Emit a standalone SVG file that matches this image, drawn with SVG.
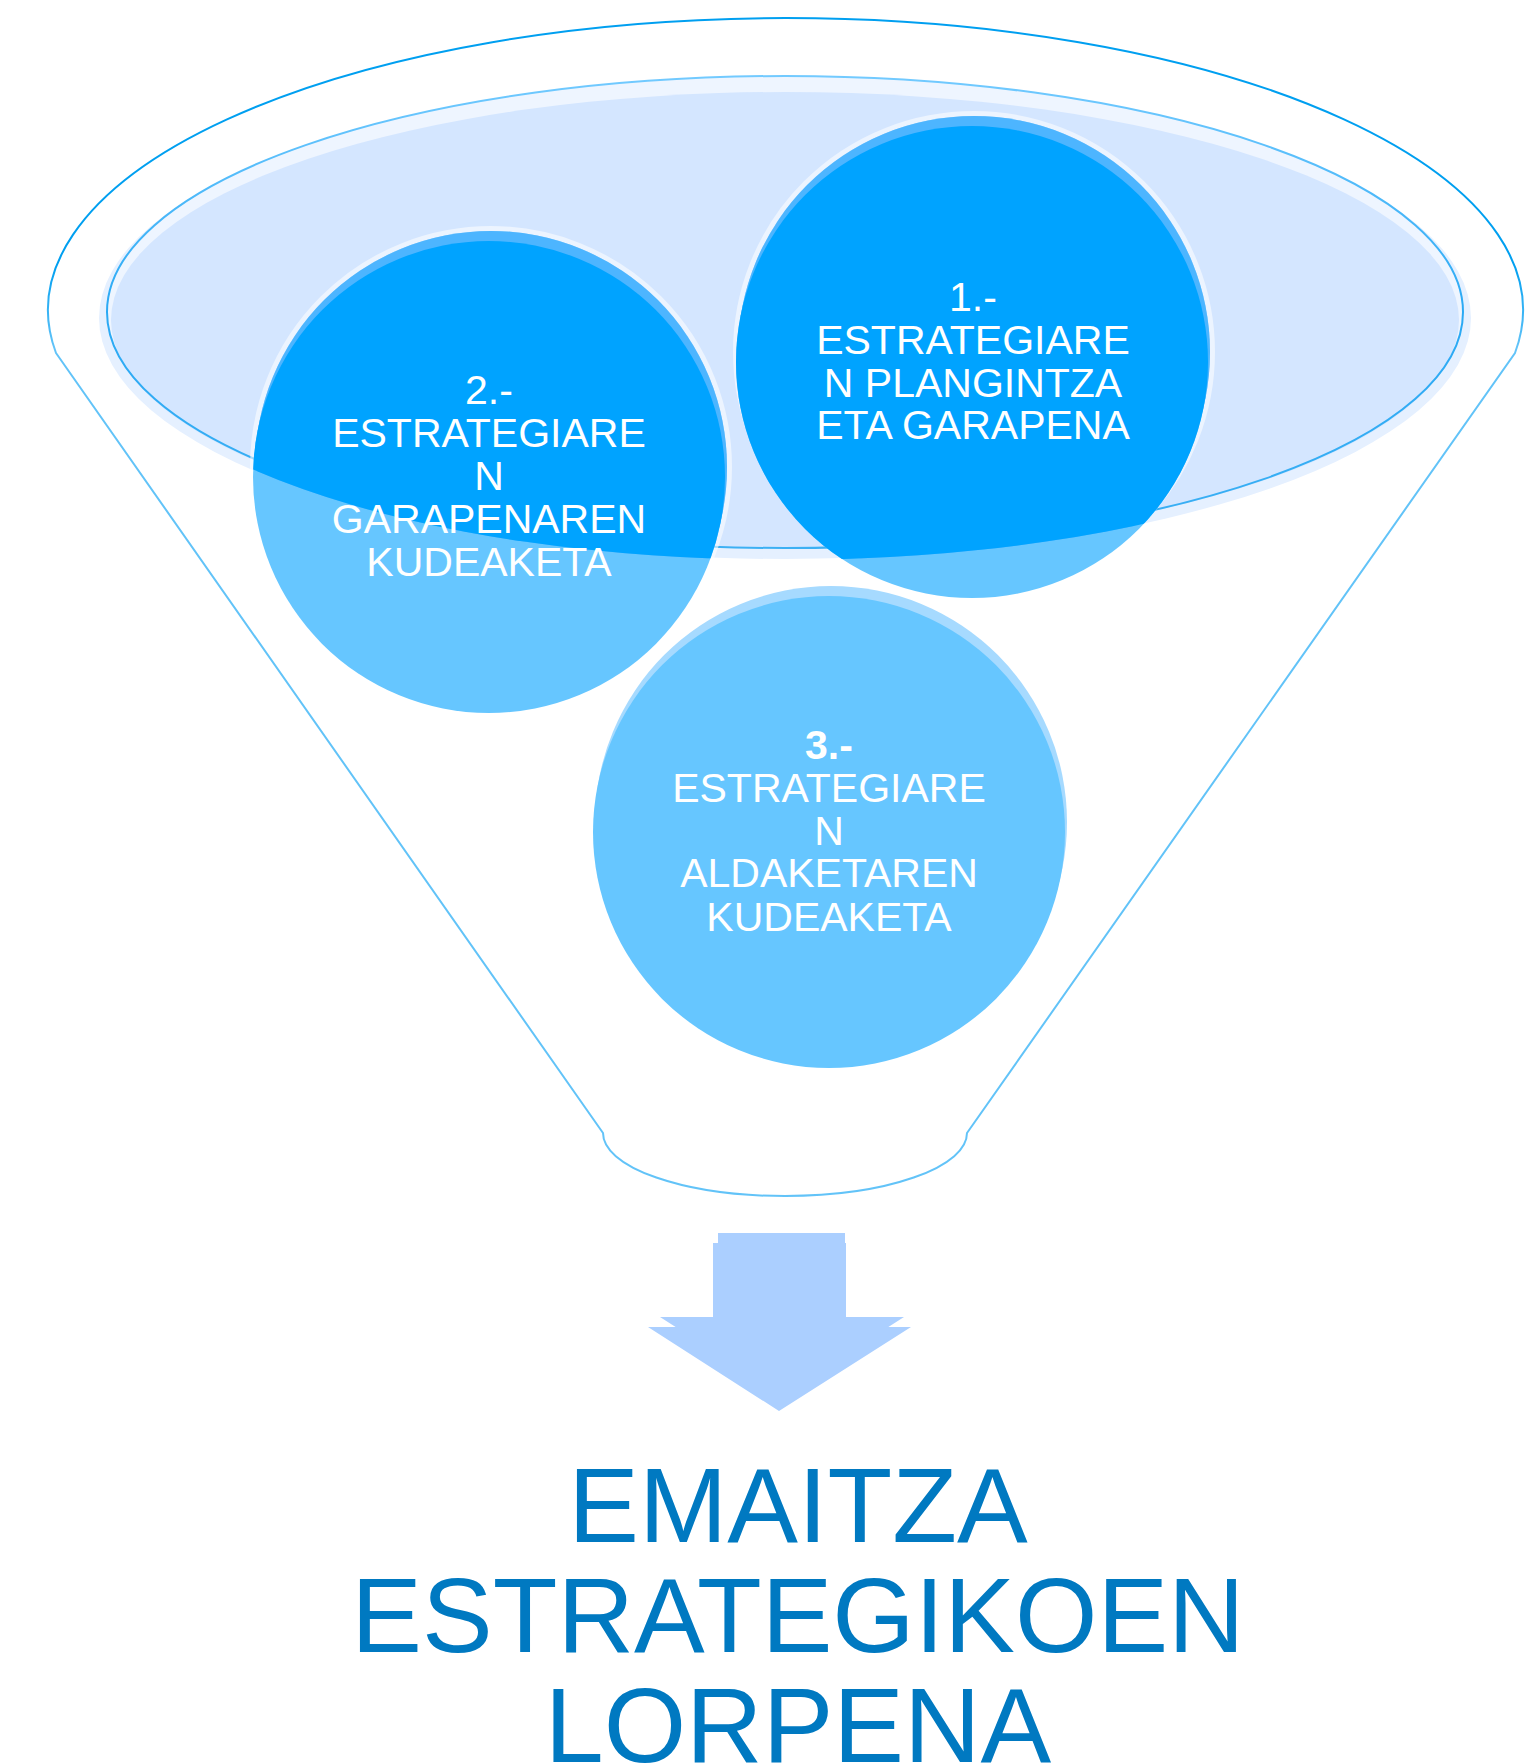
<svg xmlns="http://www.w3.org/2000/svg" width="1526" height="1764" viewBox="0 0 1526 1764">
  <style>
    .lbl { font-family: "Liberation Sans", Arial, sans-serif; font-size: 41px; fill: #ffffff; text-anchor: middle; }
    .res { font-family: "Liberation Sans", Arial, sans-serif; font-size: 106px; fill: #0079c1; text-anchor: middle; }
    .ring { fill: none; stroke: #ffffff; stroke-opacity: 0.55; stroke-width: 5; }
    .darkMain { fill: #00a3ff; }
    .darkBand { fill: #4db5ff; }
    .lightMain { fill: #66c6ff; }
    .lightBand { fill: #a6daff; }
    .arrow { fill: #abcfff; }
  </style>
  <defs>
    <clipPath id="inEll">
      <ellipse cx="785" cy="318" rx="682" ry="242"/>
    </clipPath>
    <linearGradient id="funnelStroke" gradientUnits="userSpaceOnUse" x1="0" y1="17" x2="0" y2="1196">
      <stop offset="0" stop-color="#009ff0"/>
      <stop offset="0.21" stop-color="#009ff0"/>
      <stop offset="0.28" stop-color="#62c3f8"/>
      <stop offset="1" stop-color="#62c3f8"/>
    </linearGradient>
    <linearGradient id="ellStroke" gradientUnits="userSpaceOnUse" x1="0" y1="76" x2="0" y2="548">
      <stop offset="0" stop-color="#72caff"/>
      <stop offset="0.5" stop-color="#2aa9f4"/>
      <stop offset="1" stop-color="#3cb0f4"/>
    </linearGradient>
  </defs>

  <g id="funnel">
    <path d="M56,353 L603,1133 A182,63 0 0 0 967,1133 L1515,353 A737.5,292 0 1 0 56,353 Z" fill="#ffffff" stroke="url(#funnelStroke)" stroke-width="2"/>
    <ellipse cx="785" cy="318" rx="686" ry="241" fill="#e5f0ff"/>
    <ellipse cx="785" cy="312" rx="678" ry="236" fill="#eef5ff"/>
    <ellipse cx="785" cy="320" rx="674" ry="228" fill="#d4e6ff"/>
    <ellipse cx="785" cy="312" rx="678" ry="236" fill="none" stroke="url(#ellStroke)" stroke-width="2"/>
  </g>

  <g id="node-1">
    <circle class="ring" cx="974" cy="352" r="238.5"/>
    <circle class="lightBand" cx="974" cy="352" r="236"/>
    <circle class="lightMain" cx="972" cy="362" r="236"/>
    <g clip-path="url(#inEll)">
      <circle class="darkBand" cx="974" cy="352" r="236"/>
      <circle class="darkMain" cx="972" cy="362" r="236"/>
    </g>
    <text class="lbl" x="973" y="311">1.-</text>
    <text class="lbl" x="973" y="354">ESTRATEGIARE</text>
    <text class="lbl" x="973" y="397">N PLANGINTZA</text>
    <text class="lbl" x="973" y="439">ETA GARAPENA</text>
  </g>

  <g id="node-2">
    <circle class="ring" cx="491" cy="467" r="238.5"/>
    <circle class="lightBand" cx="491" cy="467" r="236"/>
    <circle class="lightMain" cx="489" cy="477" r="236"/>
    <g clip-path="url(#inEll)">
      <circle class="darkBand" cx="491" cy="467" r="236"/>
      <circle class="darkMain" cx="489" cy="477" r="236"/>
    </g>
    <text class="lbl" x="489" y="404">2.-</text>
    <text class="lbl" x="489" y="447">ESTRATEGIARE</text>
    <text class="lbl" x="489" y="490">N</text>
    <text class="lbl" x="489" y="533">GARAPENAREN</text>
    <text class="lbl" x="489" y="576">KUDEAKETA</text>
  </g>

  <g id="node-3">
    <circle class="ring" cx="831" cy="822" r="238.5"/>
    <circle class="lightBand" cx="831" cy="822" r="236"/>
    <circle class="lightMain" cx="829" cy="832" r="236"/>
    <text class="lbl" x="829" y="759" font-weight="bold">3.-</text>
    <text class="lbl" x="829" y="802">ESTRATEGIARE</text>
    <text class="lbl" x="829" y="845">N</text>
    <text class="lbl" x="829" y="887">ALDAKETAREN</text>
    <text class="lbl" x="829" y="931">KUDEAKETA</text>
  </g>

  <g id="connectors">
    <polygon class="arrow" points="718,1233 845,1233 845,1317 904,1317 782,1395 660,1317 718,1317"/>
    <polygon class="arrow" points="713,1243 846,1243 846,1327 911,1327 779,1411 648,1327 713,1327"/>
  </g>

  <g id="result">
    <text class="res" x="798" y="1542">EMAITZA</text>
    <text class="res" x="798" y="1652">ESTRATEGIKOEN</text>
    <text class="res" x="798" y="1762">LORPENA</text>
  </g>
</svg>
